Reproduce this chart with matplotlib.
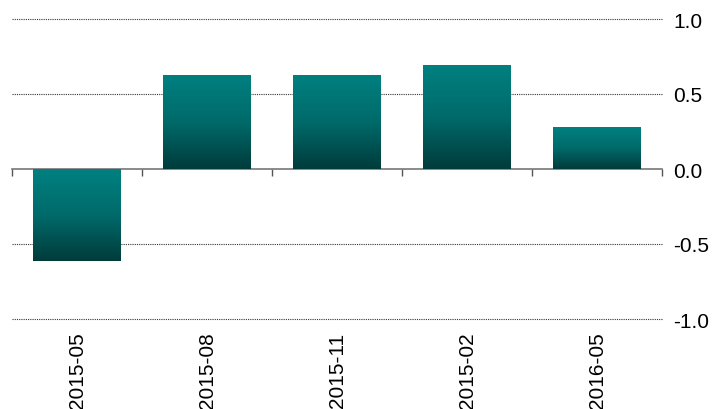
import numpy as np
import matplotlib
matplotlib.use("Agg")
import matplotlib.pyplot as plt
from matplotlib.colors import LinearSegmentedColormap

plt.rcParams['font.family'] = ['Liberation Sans', 'DejaVu Sans']
plt.rcParams['font.size'] = 15

# data
periods = ["2015-05", "2015-08", "2015-11", "2015-02", "2016-05"]
values = [-0.61, 0.627, 0.627, 0.693, 0.28]
yticks = [-1.0, -0.5, 0.0, 0.5, 1.0]

cmap = LinearSegmentedColormap.from_list("teal", ["#003b3b", "#006a6a", "#008080"])

fig = plt.figure(figsize=(7.14, 4.10), dpi=100)
ax = fig.add_axes([12/714, 90/410, 650/714, 300/410])

x = np.arange(len(periods))
bars = ax.bar(x, values, width=0.67, color="none", edgecolor="none", zorder=3)

grad = np.linspace(0, 1, 256).reshape(-1, 1)
for b in bars:
    x0, y0 = b.get_x(), b.get_y()
    w, h = b.get_width(), b.get_height()
    ylo, yhi = min(y0, y0 + h), max(y0, y0 + h)
    im = ax.imshow(grad, cmap=cmap, aspect="auto", origin="lower",
                   extent=[x0, x0 + w, ylo, yhi], zorder=3)
    im.set_clip_path(b)

ax.set_xlim(-0.5, len(periods) - 0.5)
ax.set_ylim(-1.0, 1.0)

# gridlines
for yv in yticks:
    if yv != 0:
        ax.axhline(yv, color="#333333", lw=0.8, ls=(0, (1, 1)), zorder=1, clip_on=False)

# y labels on the right
ax.yaxis.tick_right()
ax.set_yticks(yticks)
ax.set_yticklabels(["%.1f" % v for v in yticks])
ax.tick_params(axis="y", length=0, pad=8)

# x labels at bottom
ax.set_xticks(x)
ax.set_xticklabels(periods, rotation=90, va="top", ha="center")
ax.tick_params(axis="x", length=0, pad=9)

for s in ax.spines.values():
    s.set_visible(False)

# zero line with boundary ticks (pointing down)
sec = ax.secondary_xaxis(0.5)
sec.set_xticks(np.arange(len(periods) + 1) - 0.5)
sec.set_xticklabels([])
sec.tick_params(axis="x", direction="in", length=5, width=1, color="#555555")
for s in sec.spines.values():
    s.set_color("#777777")
    s.set_linewidth(1.2)

ax.set_autoscale_on(False)
fig.savefig("out.png", dpi=100)
